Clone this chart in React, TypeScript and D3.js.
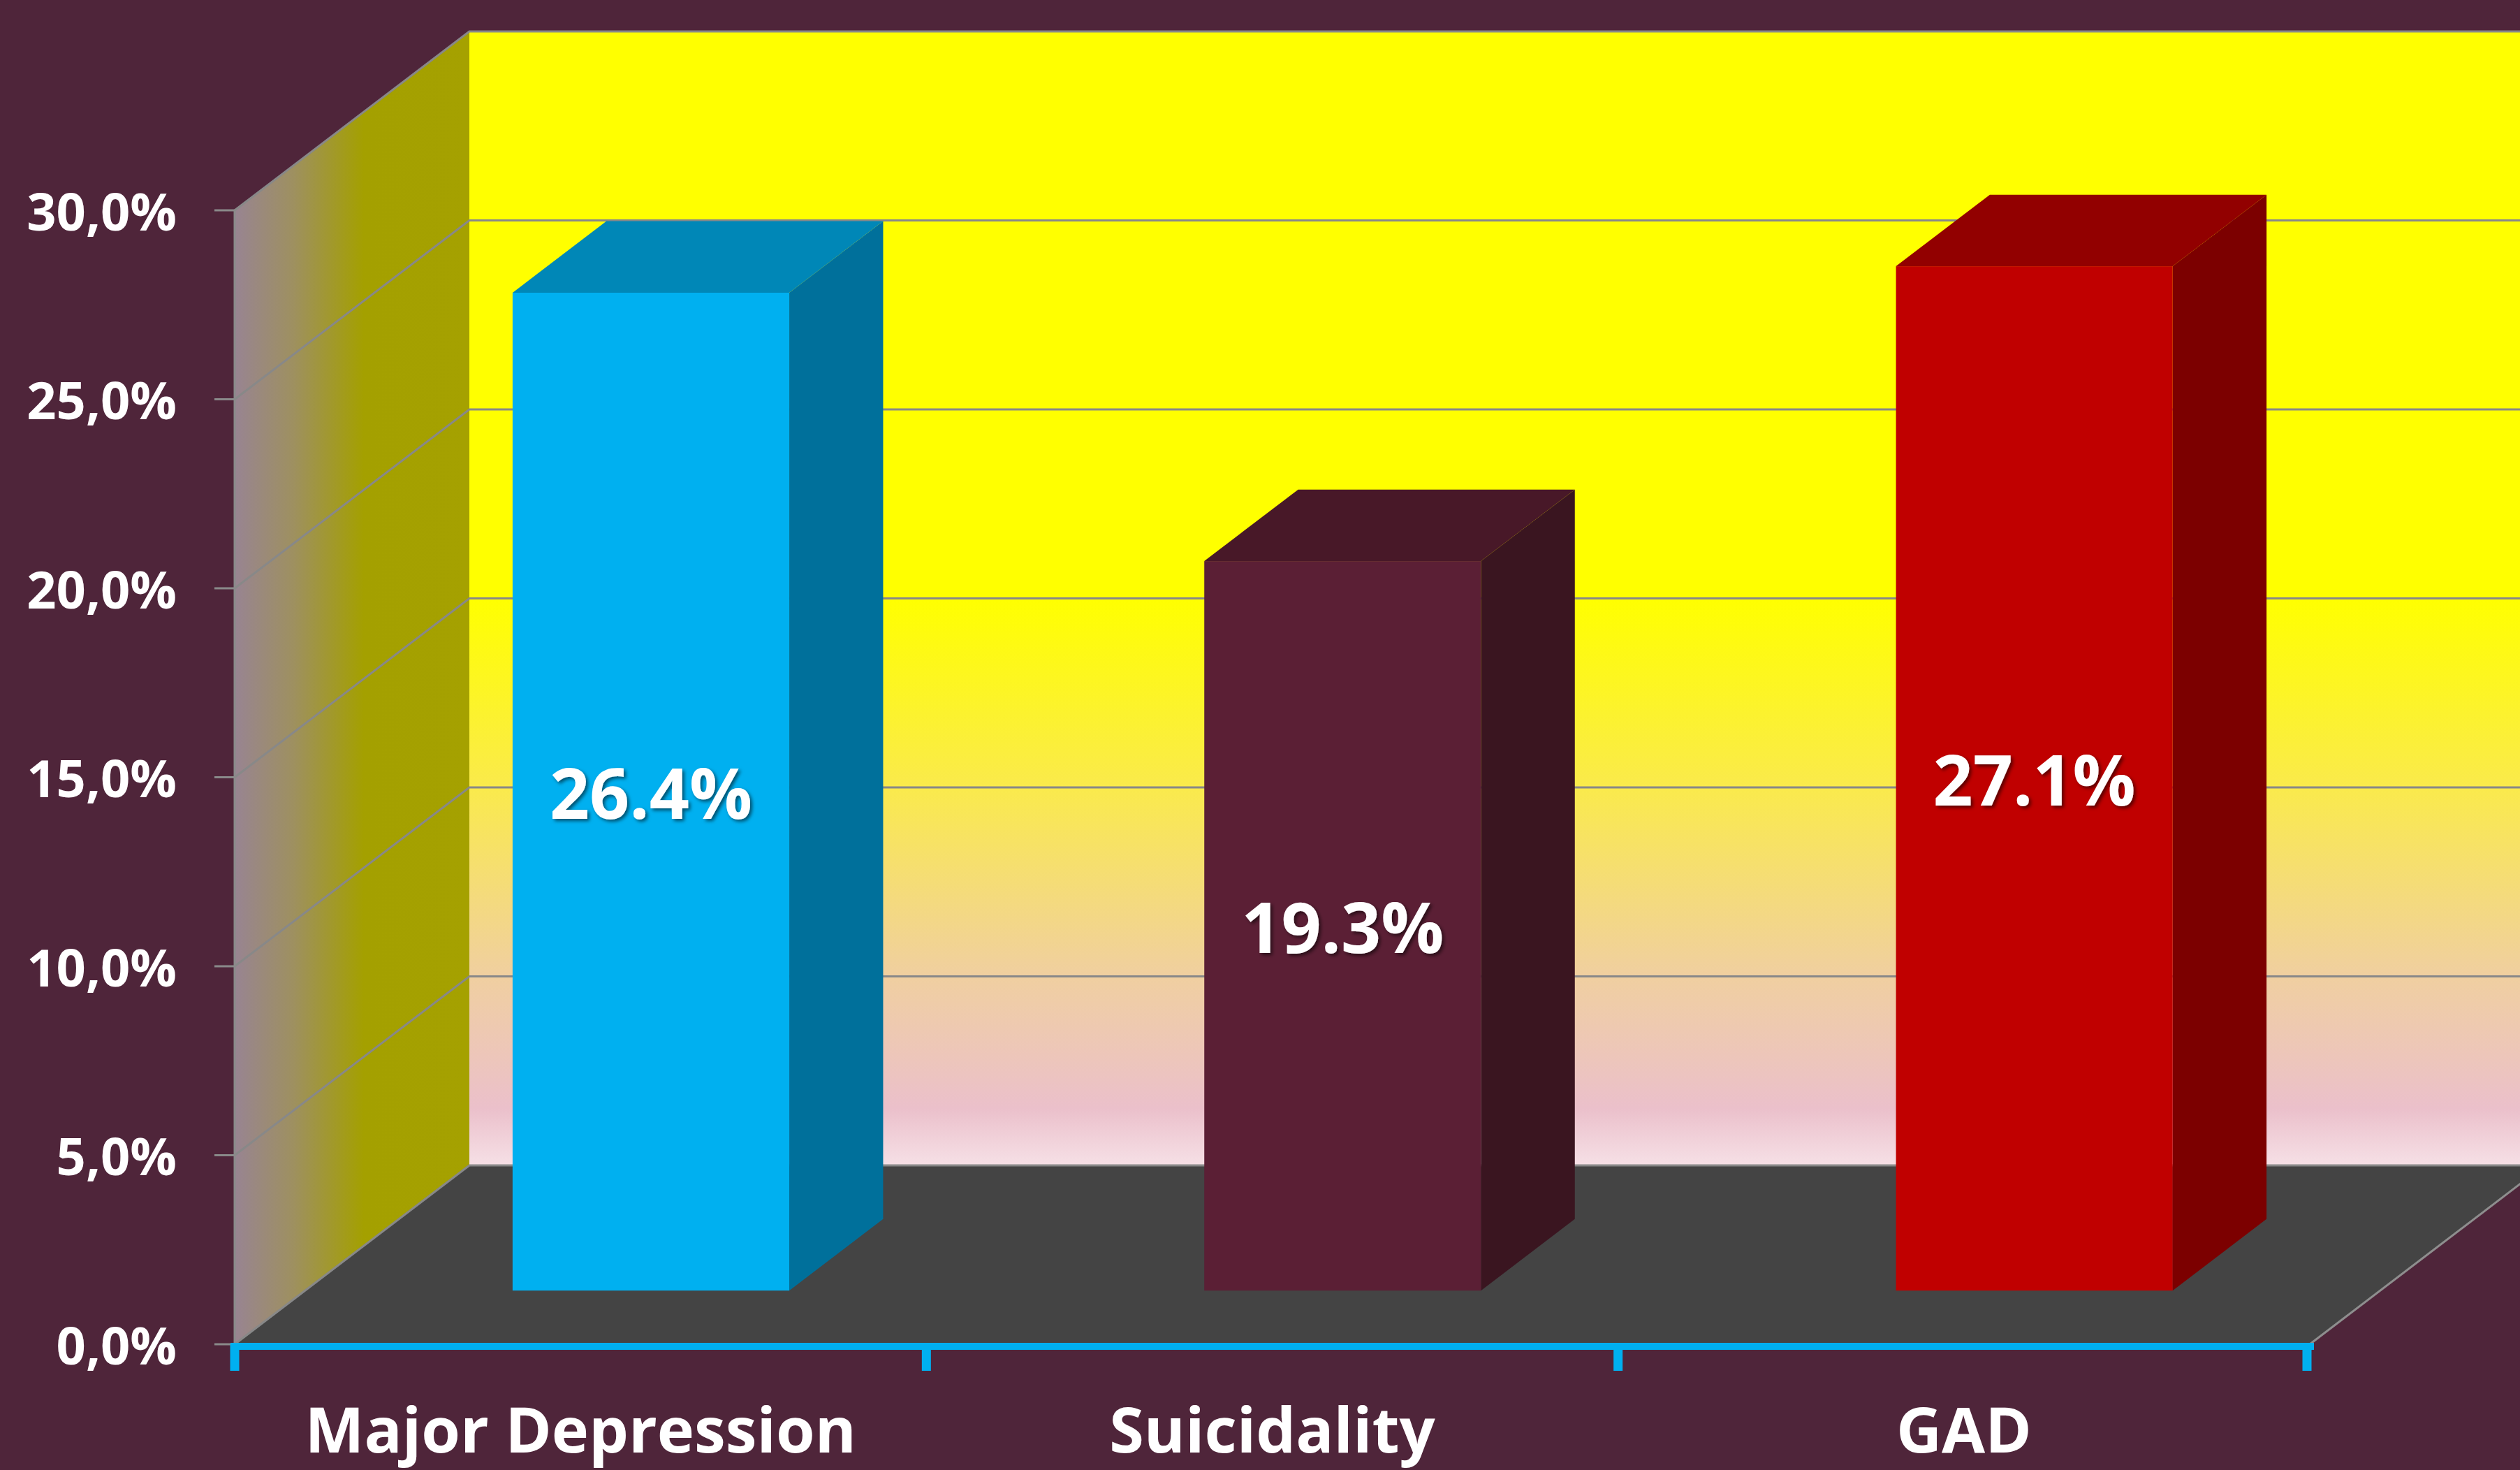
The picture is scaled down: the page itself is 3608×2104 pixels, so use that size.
import React, { useEffect, useRef } from 'react';
import * as d3 from 'd3';

const categories = ['Major Depression', 'Suicidality', 'GAD'];
const values = [26.4, 19.3, 27.1];
const valueLabels = ['26.4%', '19.3%', '27.1%'];
const yTicks = [0, 5, 10, 15, 20, 25, 30];
const yTickLabels = ['0,0%', '5,0%', '10,0%', '15,0%', '20,0%', '25,0%', '30,0%'];
const frontColors = ['#00B0F0', '#5B1F35', '#C00000'];
const topColors = ['#0087B7', '#481828', '#920000'];
const sideColors = ['#00709B', '#3A1520', '#7C0000'];

const WIDTH = 3608;
const HEIGHT = 2104;

export default function App() {
  const svgRef = useRef<SVGSVGElement>(null);

  useEffect(() => {
    if (!svgRef.current) return;
    const svg = d3.select(svgRef.current);
    svg.selectAll('*').remove();

    // plot frame (front plane) and the oblique depth vector
    const left = 336, right = 3307, top = 301, bottom = 1924;
    const depthX = 336, depthY = -256;
    const font = "'Open Sans', 'Noto Sans', sans-serif";

    const x = d3.scaleBand<string>().domain(categories).range([left, right]).paddingInner(0).paddingOuter(0);
    const y = d3.scaleLinear().domain([0, 30]).range([bottom, top]);

    const defs = svg.append('defs');
    const wallGrad = defs.append('linearGradient')
      .attr('id', 'wallGrad').attr('gradientUnits', 'userSpaceOnUse')
      .attr('x1', 0).attr('x2', 0).attr('y1', y(30) + depthY).attr('y2', y(0) + depthY);
    [[0, '#FFFF00'], [0.5, '#FFFF00'], [0.667, '#FAEA4C'], [0.833, '#F0CFA0'], [0.95, '#EBC0CB'], [1, '#F6E0E6']]
      .forEach(([o, c]) => wallGrad.append('stop').attr('offset', o as number).attr('stop-color', c as string));

    const sideGrad = defs.append('linearGradient')
      .attr('id', 'sideGrad').attr('gradientUnits', 'userSpaceOnUse')
      .attr('x1', left).attr('x2', left + depthX).attr('y1', 0).attr('y2', 0);
    [[0, '#988492'], [0.25, '#9E9060'], [0.55, '#A4A000'], [1, '#A5A100']]
      .forEach(([o, c]) => sideGrad.append('stop').attr('offset', o as number).attr('stop-color', c as string));

    const shadow = defs.append('filter').attr('id', 'txtShadow')
      .attr('x', '-20%').attr('y', '-20%').attr('width', '140%').attr('height', '140%');
    shadow.append('feDropShadow').attr('dx', 3).attr('dy', 3).attr('stdDeviation', 2.5)
      .attr('flood-color', '#000').attr('flood-opacity', 0.55);

    // background
    svg.append('rect').attr('width', WIDTH).attr('height', HEIGHT).attr('fill', '#4F253A');

    // back wall
    svg.append('polygon')
      .attr('points', [
        [left + depthX, y(30) + depthY], [right + depthX, y(30) + depthY],
        [right + depthX, y(0) + depthY], [left + depthX, y(0) + depthY]
      ].map(p => p.join(',')).join(' '))
      .attr('fill', 'url(#wallGrad)');

    // side wall
    svg.append('polygon')
      .attr('points', [
        [left, y(30)], [left + depthX, y(30) + depthY],
        [left + depthX, y(0) + depthY], [left, y(0)]
      ].map(p => p.join(',')).join(' '))
      .attr('fill', 'url(#sideGrad)');

    // floor
    svg.append('polygon')
      .attr('points', [
        [left, y(0)], [right, y(0)],
        [right + depthX, y(0) + depthY], [left + depthX, y(0) + depthY]
      ].map(p => p.join(',')).join(' '))
      .attr('fill', '#444444');

    svg.append('line')
      .attr('x1', right).attr('y1', y(0)).attr('x2', right + depthX).attr('y2', y(0) + depthY)
      .attr('stroke', '#8E8E8E').attr('stroke-width', 3);

    // gridlines on back wall + side wall
    const grid = svg.append('g').attr('stroke', '#888888').attr('stroke-width', 3).attr('fill', 'none');
    yTicks.forEach(t => {
      grid.append('path')
        .attr('d', `M${left},${y(t)} L${left + depthX},${y(t) + depthY} L${WIDTH},${y(t) + depthY}`);
    });

    // y axis line and ticks
    svg.append('line')
      .attr('x1', left).attr('x2', left).attr('y1', y(30)).attr('y2', y(0))
      .attr('stroke', '#8A8A8A').attr('stroke-width', 3);
    svg.append('g').selectAll('line')
      .data(yTicks).enter().append('line')
      .attr('x1', left - 29).attr('x2', left)
      .attr('y1', d => y(d)).attr('y2', d => y(d))
      .attr('stroke', '#8A8A8A').attr('stroke-width', 3);

    svg.append('g').selectAll('text')
      .data(yTicks).enter().append('text')
      .attr('x', 253).attr('y', d => y(d))
      .attr('text-anchor', 'end').attr('dominant-baseline', 'central')
      .style('font-family', font).style('font-weight', 700).style('font-size', '74px')
      .attr('fill', '#FFFFFF')
      .text((d, i) => yTickLabels[i]);

    // 3D bars
    const frontDepth = 0.3, backDepth = 0.7;
    const barW = x.bandwidth() * 0.4;
    const offX = depthX * frontDepth, offY = depthY * frontDepth;
    const dX = depthX * (backDepth - frontDepth), dY = depthY * (backDepth - frontDepth);

    const bars = svg.append('g').selectAll('g')
      .data(categories).enter().append('g');

    bars.each(function (cat, i) {
      const g = d3.select(this);
      const bx0 = (x(cat) || 0) + x.bandwidth() / 2 - barW / 2 + offX;
      const bx1 = bx0 + barW;
      const by0 = y(0) + offY;
      const by1 = y(values[i]) + offY;

      // side face
      g.append('polygon')
        .attr('points', [[bx1, by1], [bx1 + dX, by1 + dY], [bx1 + dX, by0 + dY], [bx1, by0]].map(p => p.join(',')).join(' '))
        .attr('fill', sideColors[i]);
      // top face
      g.append('polygon')
        .attr('points', [[bx0, by1], [bx1, by1], [bx1 + dX, by1 + dY], [bx0 + dX, by1 + dY]].map(p => p.join(',')).join(' '))
        .attr('fill', topColors[i]);
      // front face
      g.append('rect')
        .attr('x', bx0).attr('y', by1).attr('width', barW).attr('height', by0 - by1)
        .attr('fill', frontColors[i]);

      g.append('text')
        .attr('x', (bx0 + bx1) / 2).attr('y', (by0 + by1) / 2)
        .attr('text-anchor', 'middle').attr('dominant-baseline', 'central')
        .style('font-family', font).style('font-weight', 700).style('font-size', '100px')
        .attr('fill', '#FFFFFF').attr('filter', 'url(#txtShadow)')
        .text(valueLabels[i]);
    });

    // category axis (cyan)
    svg.append('line')
      .attr('x1', left - 6).attr('x2', right + 6).attr('y1', y(0) + 3).attr('y2', y(0) + 3)
      .attr('stroke', '#00B0F0').attr('stroke-width', 10);
    const edges = [...categories.map(c => x(c) || 0), right];
    svg.append('g').selectAll('line')
      .data(edges).enter().append('line')
      .attr('x1', (d, i) => d + (i === edges.length - 1 ? -4 : 0))
      .attr('x2', (d, i) => d + (i === edges.length - 1 ? -4 : 0))
      .attr('y1', y(0)).attr('y2', y(0) + 38)
      .attr('stroke', '#00B0F0').attr('stroke-width', 13);

    svg.append('g').selectAll('text')
      .data(categories).enter().append('text')
      .attr('x', d => (x(d) || 0) + x.bandwidth() / 2)
      .attr('y', 2079)
      .attr('text-anchor', 'middle')
      .style('font-family', font).style('font-weight', 700).style('font-size', '90px')
      .attr('fill', '#FFFFFF')
      .text(d => d);
  }, []);

  return (
    <svg
      ref={svgRef}
      width={WIDTH}
      height={HEIGHT}
      style={{ position: 'fixed', left: 0, top: 0, display: 'block' }}
    />
  );
}
